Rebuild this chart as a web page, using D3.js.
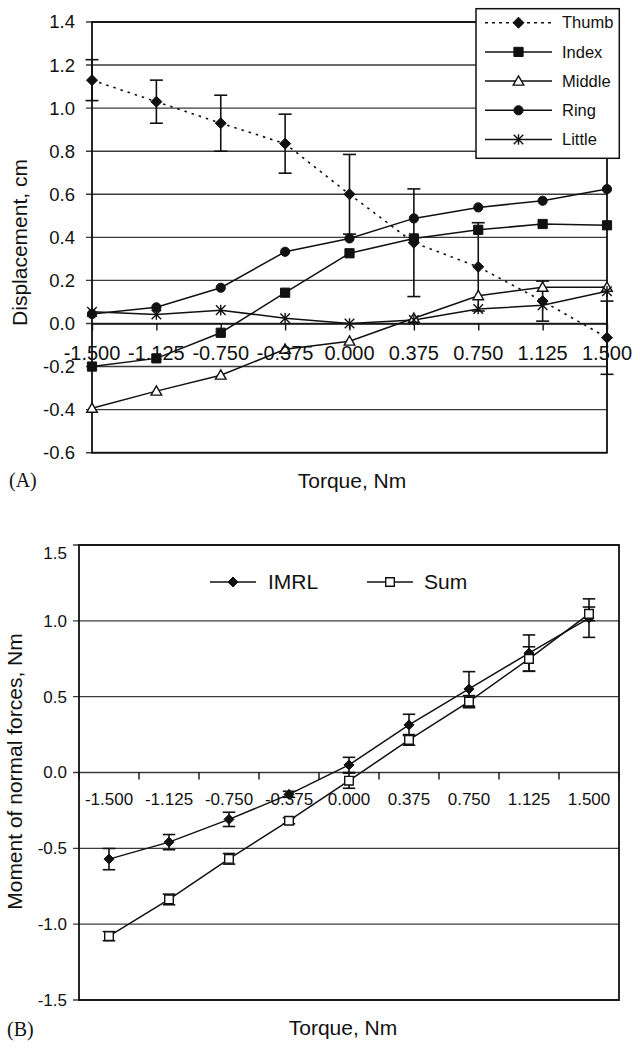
<!DOCTYPE html>
<html>
<head>
<meta charset="utf-8">
<script src="https://cdn.jsdelivr.net/npm/d3@7"></script>
<style>
  html, body { margin: 0; padding: 0; background: #fff; }
  svg { display: block; }
  text { font-family: "Liberation Sans", Arial, sans-serif; fill: #111; }
</style>
</head>
<body>
<svg id="chart" width="640" height="1050"></svg>
<script>
// ---------- data ----------
const categories = ["-1.500", "-1.125", "-0.750", "-0.375", "0.000", "0.375", "0.750", "1.125", "1.500"];

// Panel A: displacement, cm
const thumb    = [1.13, 1.03, 0.93, 0.835, 0.60, 0.375, 0.263, 0.104, -0.066];
const thumbErr = [0.095, 0.10, 0.13, 0.137, 0.185, 0.25, 0.205, 0.093, 0.17];
const index    = [-0.20, -0.162, -0.043, 0.143, 0.326, 0.395, 0.435, 0.462, 0.456];
const middle   = [-0.394, -0.314, -0.24, -0.12, -0.082, 0.024, 0.129, 0.168, 0.168];
const ring     = [0.044, 0.075, 0.166, 0.333, 0.395, 0.488, 0.539, 0.57, 0.624];
const little   = [0.054, 0.042, 0.062, 0.024, 0.0, 0.016, 0.067, 0.085, 0.15];
const yTicksA  = [-0.6, -0.4, -0.2, 0.0, 0.2, 0.4, 0.6, 0.8, 1.0, 1.2, 1.4];
const seriesNamesA = ["Thumb", "Index", "Middle", "Ring", "Little"];

// Panel B: moment of normal forces, Nm
const imrl    = [-0.571, -0.459, -0.309, -0.144, 0.05, 0.314, 0.551, 0.787, 1.018];
const imrlErr = [0.07, 0.05, 0.047, 0.02, 0.05, 0.07, 0.114, 0.12, 0.127];
const sum     = [-1.079, -0.837, -0.569, -0.318, -0.054, 0.215, 0.467, 0.749, 1.046];
const sumErr  = [0.03, 0.035, 0.035, 0.02, 0.05, 0.035, 0.04, 0.08, 0.045];
const yTicksB = [-1.5, -1.0, -0.5, 0.0, 0.5, 1.0, 1.5];
const seriesNamesB = ["IMRL", "Sum"];

// ---------- helpers ----------
const svg = d3.select("#chart");
const GRID = "#3a3a3a";
const fmt1 = d => d3.format(".1f")(d).replace("\u2212", "-");

function markerPath(kind, s) {
  switch (kind) {
    case "diamond": return `M0,${-s}L${s},0L0,${s}L${-s},0Z`;
    case "square": return `M${-s},${-s}H${s}V${s}H${-s}Z`;
    case "triangle": return `M0,${-s}L${s},${s * 0.75}L${-s},${s * 0.75}Z`;
    case "asterisk": return `M0,${-s}V${s}M${-s * 0.9},${-s * 0.9}L${s * 0.9},${s * 0.9}M${-s * 0.9},${s * 0.9}L${s * 0.9},${-s * 0.9}`;
  }
}
function drawMarker(g, kind, x, y, opts) {
  const o = Object.assign({ size: 5 }, opts || {});
  if (kind === "circle") {
    g.append("circle").attr("cx", x).attr("cy", y).attr("r", o.size * 0.92)
      .attr("fill", "#111").attr("stroke", "#111").attr("stroke-width", 1);
    return;
  }
  const p = g.append("path").attr("d", markerPath(kind, o.size))
    .attr("transform", `translate(${x},${y})`);
  if (kind === "triangle" || o.open) {
    p.attr("fill", "#fff").attr("stroke", "#111").attr("stroke-width", 1.4);
  } else if (kind === "asterisk") {
    p.attr("fill", "none").attr("stroke", "#111").attr("stroke-width", 1.4);
  } else {
    p.attr("fill", "#111").attr("stroke", "#111").attr("stroke-width", 1);
  }
}
function errorBars(g, xs, ys, vals, errs, capW) {
  vals.forEach((v, i) => {
    const x = xs(categories[i]);
    const y1 = ys(v + errs[i]), y2 = ys(v - errs[i]);
    g.append("line").attr("x1", x).attr("x2", x).attr("y1", y1).attr("y2", y2)
      .attr("stroke", "#111").attr("stroke-width", 1.6);
    [y1, y2].forEach(yy => g.append("line").attr("x1", x - capW / 2).attr("x2", x + capW / 2)
      .attr("y1", yy).attr("y2", yy).attr("stroke", "#111").attr("stroke-width", 1.6));
  });
}

// ================= Panel A =================
const xA = d3.scalePoint().domain(categories).range([92, 607]);
const yA = d3.scaleLinear().domain([-0.6, 1.4]).range([452.7, 22]);
const gA = svg.append("g");

gA.selectAll("line.grid").data(yTicksA).join("line")
  .attr("x1", 86).attr("x2", 607)
  .attr("y1", d => yA(d)).attr("y2", d => yA(d))
  .attr("stroke", GRID).attr("stroke-width", 1.4);

gA.append("rect").attr("x", 92).attr("y", yA(1.4)).attr("width", 607 - 92)
  .attr("height", yA(-0.6) - yA(1.4)).attr("fill", "none")
  .attr("stroke", "#111").attr("stroke-width", 1.8);

gA.selectAll("text.yt").data(yTicksA).join("text")
  .attr("x", 75).attr("y", d => yA(d)).attr("dy", "0.35em")
  .attr("text-anchor", "end").attr("font-size", 18.5)
  .text(fmt1);

const xAxisA = d3.axisBottom(xA).tickSize(7).tickSizeOuter(0).tickFormat("");
const axA = gA.append("g").attr("transform", `translate(0,${yA(0)})`).call(xAxisA);
axA.select(".domain").attr("stroke", "#111").attr("stroke-width", 1.4);
axA.selectAll(".tick line").attr("stroke", "#111").attr("stroke-width", 1.4);

const lineA = vals => d3.line().x((d, i) => xA(categories[i])).y(d => yA(d))(vals);
gA.append("path").attr("d", lineA(thumb)).attr("fill", "none")
  .attr("stroke", "#111").attr("stroke-width", 1.6).attr("stroke-dasharray", "2.5,5");
[index, middle, ring, little].forEach(vals => {
  gA.append("path").attr("d", lineA(vals)).attr("fill", "none")
    .attr("stroke", "#111").attr("stroke-width", 1.5);
});

errorBars(gA, xA, yA, thumb, thumbErr, 13);

const seriesA = [
  { vals: thumb, kind: "diamond", size: 5.5 },
  { vals: index, kind: "square", size: 4.6 },
  { vals: middle, kind: "triangle", size: 5.3 },
  { vals: ring, kind: "circle", size: 5 },
  { vals: little, kind: "asterisk", size: 5.3 }
];
seriesA.forEach(s => s.vals.forEach((v, i) => drawMarker(gA, s.kind, xA(categories[i]), yA(v), { size: s.size })));

gA.selectAll("text.xt").data(categories).join("text")
  .attr("x", d => xA(d)).attr("y", 360)
  .attr("text-anchor", "middle").attr("font-size", 20)
  .text(d => d);

gA.append("text").attr("x", 352).attr("y", 488).attr("text-anchor", "middle")
  .attr("font-size", 21).text("Torque, Nm");
gA.append("text").attr("transform", "translate(27,242.5) rotate(-90)")
  .attr("text-anchor", "middle").attr("font-size", 21).text("Displacement, cm");
gA.append("text").attr("x", 9).attr("y", 487).attr("font-size", 20)
  .style("font-family", "'Liberation Serif', 'Times New Roman', serif").text("(A)");

const legA = gA.append("g");
legA.append("rect").attr("x", 476).attr("y", 8.7).attr("width", 143.3).attr("height", 149.6)
  .attr("fill", "#fff").attr("stroke", "#111").attr("stroke-width", 1.5);
seriesNamesA.forEach((name, i) => {
  const y = 22.7 + i * 29.2;
  const ln = legA.append("line").attr("x1", 485).attr("x2", 552).attr("y1", y).attr("y2", y)
    .attr("stroke", "#111").attr("stroke-width", 1.5);
  if (i === 0) ln.attr("stroke-dasharray", "3,4").attr("stroke-width", 1.6);
  drawMarker(legA, seriesA[i].kind, 518.5, y, { size: seriesA[i].size });
  legA.append("text").attr("x", 562).attr("y", y).attr("dy", "0.35em")
    .attr("font-size", 16.5).text(name);
});

// ================= Panel B =================
const xB = d3.scaleBand().domain(categories).range([79, 619]);
const xBc = c => xB(c) + xB.bandwidth() / 2;
const yB = d3.scaleLinear().domain([-1.5, 1.5]).range([1000, 545]);
const gB = svg.append("g");

gB.selectAll("line.grid").data(yTicksB).join("line")
  .attr("x1", 73).attr("x2", 619)
  .attr("y1", d => yB(d)).attr("y2", d => yB(d))
  .attr("stroke", GRID).attr("stroke-width", 1.4);

gB.append("rect").attr("x", 79).attr("y", yB(1.5)).attr("width", 619 - 79)
  .attr("height", yB(-1.5) - yB(1.5)).attr("fill", "none")
  .attr("stroke", "#111").attr("stroke-width", 1.8);

gB.selectAll("text.yt").data(yTicksB).join("text")
  .attr("x", 67).attr("y", d => yB(d) + (d === 1.5 ? 8 : 0)).attr("dy", "0.35em")
  .attr("text-anchor", "end").attr("font-size", 17)
  .text(fmt1);

const boundaries = categories.map(c => xB(c)).concat([xB(categories[categories.length - 1]) + xB.bandwidth()]);
gB.selectAll("line.xtick").data(boundaries).join("line")
  .attr("x1", d => d).attr("x2", d => d)
  .attr("y1", yB(0)).attr("y2", yB(0) + 7)
  .attr("stroke", "#111").attr("stroke-width", 1.4);

gB.selectAll("text.xt").data(categories).join("text")
  .attr("x", d => xBc(d)).attr("y", 805)
  .attr("text-anchor", "middle").attr("font-size", 17)
  .text(d => d);

const lineB = vals => d3.line().x((d, i) => xBc(categories[i])).y(d => yB(d))(vals);
gB.append("path").attr("d", lineB(imrl)).attr("fill", "none").attr("stroke", "#111").attr("stroke-width", 1.5);
gB.append("path").attr("d", lineB(sum)).attr("fill", "none").attr("stroke", "#111").attr("stroke-width", 1.5);
errorBars(gB, xBc, yB, imrl, imrlErr, 12.5);
errorBars(gB, xBc, yB, sum, sumErr, 12.5);
imrl.forEach((v, i) => drawMarker(gB, "diamond", xBc(categories[i]), yB(v), { size: 5 }));
sum.forEach((v, i) => drawMarker(gB, "square", xBc(categories[i]), yB(v), { size: 4.3, open: true }));

[{ name: seriesNamesB[0], kind: "diamond", x1: 210, x2: 256, tx: 268, open: false },
 { name: seriesNamesB[1], kind: "square", x1: 367, x2: 413, tx: 424, open: true }].forEach(e => {
  const y = 582;
  gB.append("line").attr("x1", e.x1).attr("x2", e.x2).attr("y1", y).attr("y2", y)
    .attr("stroke", "#111").attr("stroke-width", 1.5);
  drawMarker(gB, e.kind, (e.x1 + e.x2) / 2, y, { size: e.kind === "diamond" ? 5 : 4.3, open: e.open });
  gB.append("text").attr("x", e.tx).attr("y", y).attr("dy", "0.35em")
    .attr("font-size", 21).text(e.name);
});

gB.append("text").attr("x", 343).attr("y", 1035).attr("text-anchor", "middle")
  .attr("font-size", 21).text("Torque, Nm");
gB.append("text").attr("transform", "translate(22,771.5) rotate(-90)")
  .attr("text-anchor", "middle").attr("font-size", 21).text("Moment of normal forces, Nm");
gB.append("text").attr("x", 7).attr("y", 1036).attr("font-size", 20)
  .style("font-family", "'Liberation Serif', 'Times New Roman', serif").text("(B)");
</script>
</body>
</html>
